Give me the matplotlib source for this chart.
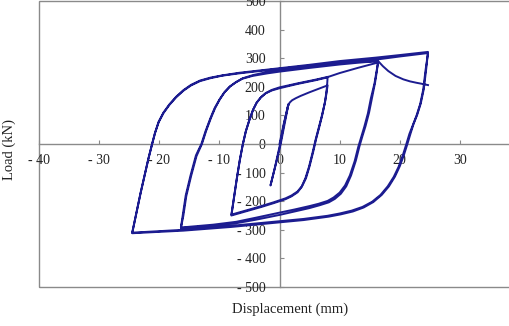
import numpy as np
import matplotlib
matplotlib.use("Agg")
import matplotlib.pyplot as plt
from matplotlib.patches import Rectangle

plt.rcParams['font.family'] = ['Liberation Serif', 'DejaVu Serif']

# load-displacement record, one branch per pair of lists (mm, kN)
small_x = [0.0, 0.7, 1.5, 0.9, 0.2, -0.6, -1.5, -0.8, 0.1, 0.8, 1.4]
small_y = [0, 70, 140, 75, 0, -70, -145, -85, 0, 75, 133]

up8a_x = [1.4, 1.7, 2.1, 2.7, 3.5, 5.0, 6.5, 8.0]
up8a_y = [133, 145, 153, 160, 168, 181, 193, 205]
dn8a_x = [8.0, 7.8, 7.5, 7.0, 6.5, 6.0, 5.5, 4.9, 4.3, 3.7, 3.0, 2.0, 1.0, -1.0, -3.0, -5.0, -8.0]
dn8a_y = [205, 175, 140, 95, 55, 15, -30, -80, -120, -148, -166, -180, -190, -204, -217, -229, -247]
up8b_x = [-8.0, -7.6, -7.1, -6.6, -6.1, -5.6, -5.0, -4.4, -3.8, -3.1, -2.3, -1.3, 0.0, 3.0, 6.0, 8.0]
up8b_y = [-247, -190, -120, -55, 0, 45, 85, 120, 145, 163, 177, 187, 195, 210, 223, 233]
dn8b_x = [8.0, 7.9, 7.6, 7.1, 6.6, 6.1, 5.6, 5.0, 4.4, 3.7, 3.0, 2.0, 1.0, -1.0, -3.0, -5.0, -8.0]
dn8b_y = [233, 200, 150, 100, 58, 18, -28, -78, -120, -150, -169, -183, -193, -207, -220, -232, -250]

up16a_x = [-8.0, -7.6, -7.1, -6.6, -6.1, -5.6, -5.0, -4.4, -3.8, -3.1, -2.3, -1.3, 0.0, 3.0, 6.0, 8.3, 10.0, 13.0, 16.4]
up16a_y = [-250, -192, -122, -57, -2, 44, 84, 119, 144, 163, 178, 189, 198, 212, 225, 236, 248, 266, 285]
dn16a_x = [16.4, 16.1, 15.8, 15.2, 14.7, 14.1, 13.6, 13.1, 12.5, 11.7, 10.9, 10.0, 9.0, 8.0, 6.5, 5.0, 2.5, 0.0, -4.0, -7.2, -11.0, -16.4]
dn16a_y = [285, 250, 212, 160, 107, 60, 25, -10, -60, -110, -145, -170, -187, -199, -209, -217, -229, -240, -258, -272, -282, -292]
up16b_x = [-16.4, -16.1, -15.6, -14.8, -13.9, -13.0, -12.3, -11.5, -10.8, -10.0, -9.2, -8.3, -7.3, -6.2, -4.5, -2.0, 0.0, 5.0, 10.0, 13.0, 16.4]
up16b_y = [-292, -250, -180, -110, -40, 0, 45, 90, 125, 155, 180, 200, 215, 228, 238, 247, 253, 266, 278, 284, 290]
dn16b_x = [16.4, 16.2, 15.9, 15.4, 14.9, 14.3, 13.8, 13.3, 12.7, 11.9, 11.1, 10.2, 9.2, 8.2, 6.7, 5.0, 2.5, 0.0, -4.0, -7.2, -11.0, -16.4]
dn16b_y = [290, 255, 215, 162, 110, 62, 28, -8, -58, -110, -148, -174, -192, -204, -214, -224, -236, -248, -265, -277, -286, -294]

up25a_x = [-16.4, -16.0, -15.5, -14.7, -13.8, -12.9, -12.2, -11.4, -10.7, -9.9, -9.1, -8.2, -7.2, -6.1, -4.4, -2.0, 0.0, 5.0, 10.0, 16.4, 20.0, 24.7]
up25a_y = [-294, -252, -182, -112, -42, 0, 46, 91, 126, 157, 182, 202, 217, 230, 241, 252, 259, 272, 284, 296, 306, 318]
dn25a_x = [24.7, 24.3, 23.9, 23.4, 22.8, 22.2, 21.6, 21.1, 20.5, 19.8, 19.0, 18.0, 16.8, 15.4, 13.8, 12.0, 10.0, 8.0, 4.0, 0.0, -8.0, -16.0, -24.5]
dn25a_y = [318, 260, 190, 140, 100, 68, 35, 0, -40, -80, -115, -148, -178, -202, -220, -233, -243, -251, -262, -270, -286, -300, -310]
up25b_x = [-24.5, -23.8, -23.1, -22.4, -21.8, -21.2, -20.7, -20.1, -19.3, -18.3, -17.2, -16.0, -14.7, -13.2, -11.5, -9.5, -6.7, -3.3, 0.0, 5.0, 10.0, 16.0, 20.0, 24.7]
up25b_y = [-310, -240, -170, -105, -50, 0, 40, 78, 110, 139, 165, 188, 207, 222, 232, 240, 249, 257, 265, 277, 290, 302, 311, 322]
dn25b_x = [24.7, 24.4, 24.0, 23.5, 22.9, 22.3, 21.8, 21.3, 20.7, 20.0, 19.2, 18.2, 17.0, 15.6, 14.0, 12.2, 10.2, 8.2, 4.0, 0.0, -8.0, -16.0, -24.5]
dn25b_y = [322, 262, 192, 142, 102, 70, 37, 2, -38, -78, -114, -148, -178, -203, -222, -236, -246, -254, -266, -274, -290, -303, -312]

# last push, load drops past 16 mm
last_x = [-24.5, -23.8, -23.1, -22.4, -21.8, -21.2, -20.7, -20.1, -19.3, -18.3, -17.2, -16.0, -14.7, -13.2, -11.5, -9.5, -6.7, -3.3, 0.0, 5.0, 10.0, 16.4,
          17.2, 18.1, 19.3, 20.6, 21.7, 22.8, 23.8, 24.7]
last_y = [-312, -242, -172, -107, -52, -2, 38, 76, 108, 137, 163, 186, 205, 220, 230, 239, 247, 255, 263, 274, 285, 290,
          272, 255, 238, 226, 219, 214, 210, 206]

xs = [small_x, up8a_x, dn8a_x, up8b_x, dn8b_x, up16a_x, dn16a_x, up16b_x, dn16b_x,
      up25a_x, dn25a_x, up25b_x, dn25b_x, last_x]
ys = [small_y, up8a_y, dn8a_y, up8b_y, dn8b_y, up16a_y, dn16a_y, up16b_y, dn16b_y,
      up25a_y, dn25a_y, up25b_y, dn25b_y, last_y]
disp = np.concatenate(xs)
load = np.concatenate(ys)

xticks = [-40, -30, -20, -10, 0, 10, 20, 30]
xlabels = ['- 40', '- 30', '- 20', '- 10', '0', '10', '20', '30']
yticks = list(range(-500, 501, 100))
ylabels = ['- %d' % -v if v < 0 else '%d' % v for v in yticks]

fig = plt.figure(figsize=(5.09, 3.26), dpi=100)
ax = fig.add_axes([39/509, 39/326, 481/509, 286/326])
ax.set_xlim(-40, 40)
ax.set_ylim(-500, 500)

grey = '#8a8a8a'
for side in ['top', 'right']:
    ax.spines[side].set_visible(False)
for side in ['left', 'bottom']:
    ax.spines[side].set_position(('data', 0))
    ax.spines[side].set_color(grey)
    ax.spines[side].set_linewidth(1.0)
ax.add_patch(Rectangle((0, 0), 1, 1, transform=ax.transAxes, fill=False,
                       ec=grey, lw=1.0, clip_on=False))

ax.set_xticks(xticks)
ax.set_xticklabels(xlabels)
ax.set_yticks(yticks)
ax.set_yticklabels(ylabels)
ax.tick_params(axis='both', direction='in', length=3, color=grey,
               labelsize=10, labelcolor='#222222')
ax.tick_params(axis='x', pad=7)
ax.tick_params(axis='y', pad=10)

ax.plot(disp, load, color='#1c1c90', lw=1.4, zorder=3, solid_joinstyle='round')

fig.text(290/509, 1 - 309/326, 'Displacement (mm)', ha='center', va='center',
         fontsize=10.5, color='#222222')
fig.text(9/509, 1 - 149/326, 'Load (kN)', ha='center', va='center',
         rotation=90, fontsize=10.5, color='#222222')

fig.savefig('out.png', dpi=100, facecolor='white')
